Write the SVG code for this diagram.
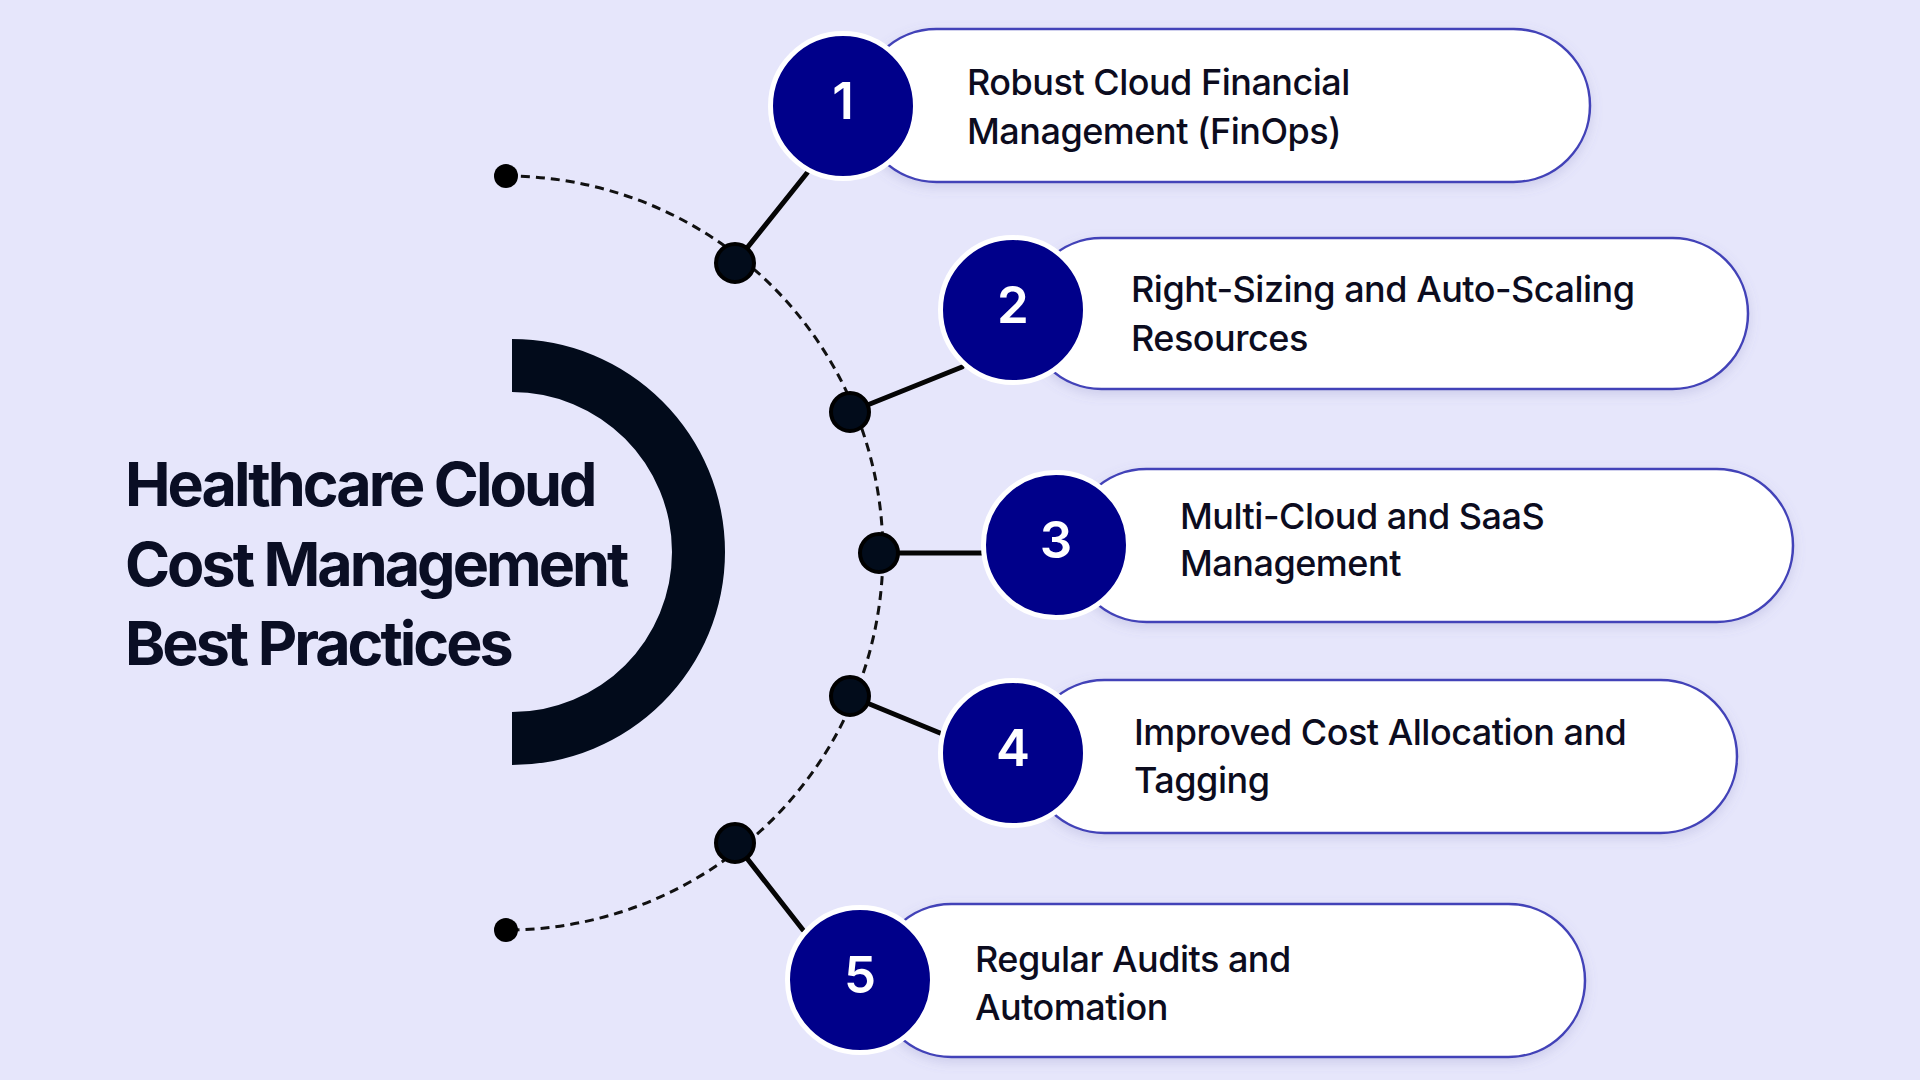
<svg xmlns="http://www.w3.org/2000/svg" width="1920" height="1080" viewBox="0 0 1920 1080">
<defs>
<filter id="sh" x="-10%" y="-30%" width="120%" height="160%">
<feDropShadow dx="0" dy="4" stdDeviation="6" flood-color="#7070b0" flood-opacity="0.22"/>
</filter>
<style>
.pill{fill:#ffffff;stroke:#4343b8;stroke-width:2.5;filter:url(#sh)}
.num{fill:#00008a;stroke:#ffffff;stroke-width:5}
.numt{fill:#ffffff;font-family:Inter,"Liberation Sans",sans-serif;font-weight:600;font-size:51px;text-anchor:middle}
.lbl{fill:#0c0c1e;font-family:Inter,"Liberation Sans",sans-serif;font-weight:500;font-size:36px;letter-spacing:-0.5px}
.title{fill:#0a0e24;font-family:Inter,"Liberation Sans",sans-serif;font-weight:700;font-size:61px;letter-spacing:-3px}
.dash{fill:none;stroke:#111;stroke-width:3;stroke-dasharray:9 6}
.link{stroke:#050505;stroke-width:5;stroke-linecap:round}
.dot{fill:#020c1b;stroke:#000;stroke-width:4}
.end{fill:#000}
</style>
</defs>
<rect width="1920" height="1080" fill="#e6e6fb"/>

<g id="title">
<path d="M512,339 A213,213 0 0 1 512,765 L512,712 A160,160 0 0 0 512,392 Z" fill="#020b1b"/>
<text class="title" x="125" y="506">Healthcare Cloud</text>
<text class="title" x="125" y="586">Cost Management</text>
<text class="title" x="125" y="665">Best Practices</text>
</g>

<g id="connectors">
<path class="dash" d="M506,176 A377,377 0 0 1 506,930"/>
<line class="link" x1="735" y1="263" x2="807" y2="173"/>
<line class="link" x1="850" y1="412" x2="962" y2="367"/>
<line class="link" x1="879" y1="553" x2="982" y2="553"/>
<line class="link" x1="850" y1="696" x2="940" y2="733"/>
<line class="link" x1="735" y1="843" x2="803" y2="930"/>
<circle class="end" cx="506" cy="176" r="12"/>
<circle class="end" cx="506" cy="930" r="12"/>
<circle class="dot" cx="735" cy="263" r="19"/>
<circle class="dot" cx="850" cy="412" r="19"/>
<circle class="dot" cx="879" cy="553" r="19"/>
<circle class="dot" cx="850" cy="696" r="19"/>
<circle class="dot" cx="735" cy="843" r="19"/>
</g>

<g id="node1">
<rect class="pill" x="860" y="29" width="730" height="153" rx="76.5"/>
<circle class="num" cx="843" cy="106" r="72.5"/>
<text class="numt" x="843" y="119">1</text>
<text class="lbl" x="967" y="95">Robust Cloud Financial</text>
<text class="lbl" x="967" y="144">Management (FinOps)</text>
</g>

<g id="node2">
<rect class="pill" x="1026" y="238" width="722" height="151" rx="75.5"/>
<circle class="num" cx="1013" cy="310" r="72.5"/>
<text class="numt" x="1013" y="323">2</text>
<text class="lbl" x="1131" y="302">Right-Sizing and Auto-Scaling</text>
<text class="lbl" x="1131" y="351">Resources</text>
</g>

<g id="node3">
<rect class="pill" x="1070" y="469" width="723" height="153" rx="76.5"/>
<circle class="num" cx="1056" cy="545" r="72.5"/>
<text class="numt" x="1056" y="558">3</text>
<text class="lbl" x="1180" y="529">Multi-Cloud and SaaS</text>
<text class="lbl" x="1180" y="576">Management</text>
</g>

<g id="node4">
<rect class="pill" x="1028" y="680" width="709" height="153" rx="76.5"/>
<circle class="num" cx="1013" cy="753" r="72.5"/>
<text class="numt" x="1013" y="766">4</text>
<text class="lbl" x="1134" y="745">Improved Cost Allocation and</text>
<text class="lbl" x="1134" y="793">Tagging</text>
</g>

<g id="node5">
<rect class="pill" x="875" y="904" width="710" height="153" rx="76.5"/>
<circle class="num" cx="860" cy="980" r="72.5"/>
<text class="numt" x="860" y="993">5</text>
<text class="lbl" x="975" y="972">Regular Audits and</text>
<text class="lbl" x="975" y="1020">Automation</text>
</g>
</svg>
